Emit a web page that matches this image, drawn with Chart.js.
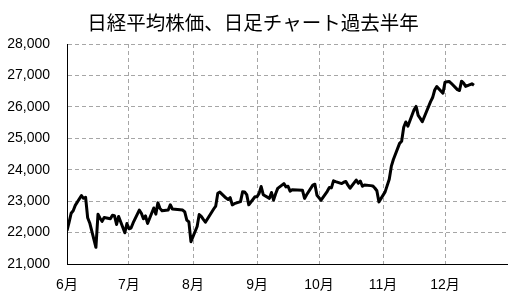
<!DOCTYPE html>
<html>
<head>
<meta charset="utf-8">
<script src="https://cdn.jsdelivr.net/npm/chart.js@4.4.1/dist/chart.umd.min.js"></script>
<style>
  body { margin: 0; background: #fff; }
  #wrap { position: relative; width: 531px; height: 303px; }
  #title {
    position: absolute; left: 0; top: 12px; width: 506px;
    text-align: center; font: 19.5px "Noto Sans CJK JP", sans-serif;
    line-height: 20px; color: #000;
  }
  canvas { display: block; }
</style>
</head>
<body>
<div id="wrap">
  <div id="title">日経平均株価、日足チャート過去半年</div>
  <canvas id="chart" width="531" height="303"></canvas>
</div>
<script>
// 取引日 (2020年) と終値
const tradeDates = [
  '6/1','6/2','6/3','6/4','6/5','6/8','6/9','6/10','6/11','6/12','6/15','6/16','6/17','6/18','6/19','6/22','6/23','6/24','6/25','6/26','6/29','6/30',
  '7/1','7/2','7/3','7/6','7/7','7/8','7/9','7/10','7/13','7/14','7/15','7/16','7/17','7/20','7/21','7/22','7/27','7/28','7/29','7/30','7/31',
  '8/3','8/4','8/5','8/6','8/7','8/11','8/12','8/13','8/14','8/17','8/18','8/19','8/20','8/21','8/24','8/25','8/26','8/27','8/28','8/31',
  '9/1','9/2','9/3','9/4','9/7','9/8','9/9','9/10','9/11','9/14','9/15','9/16','9/17','9/18','9/23','9/24','9/25','9/28','9/29','9/30',
  '10/2','10/5','10/6','10/7','10/8','10/9','10/12','10/13','10/14','10/15','10/16','10/19','10/20','10/21','10/22','10/23','10/26','10/27','10/28','10/29','10/30',
  '11/2','11/4','11/5','11/6','11/9','11/10','11/11','11/12','11/13','11/16','11/17','11/18','11/19','11/20','11/24','11/25','11/26','11/27','11/30',
  '12/1','12/2','12/3','12/4','12/7','12/8','12/9','12/10','12/11','12/14','12/15'
];
const closes = [
  22062, 22325, 22613, 22695, 22864, 23178, 23091, 23124, 22472, 22305, 21530, 22582, 22455, 22355, 22479, 22437, 22549, 22534, 22259, 22512, 21995, 22288,
  22121, 22145, 22306, 22714, 22614, 22438, 22529, 22290, 22784, 22587, 22945, 22770, 22696, 22717, 22884, 22751, 22715, 22657, 22397, 22339, 21710,
  22195, 22573, 22514, 22418, 22329, 22750, 22843, 23249, 23289, 23097, 23051, 23110, 22880, 22920, 22985, 23296, 23290, 23208, 22882, 23140,
  23138, 23247, 23465, 23205, 23089, 23274, 23032, 23235, 23406, 23559, 23454, 23475, 23319, 23360, 23346, 23087, 23204, 23511, 23539, 23185,
  23029, 23312, 23433, 23422, 23647, 23619, 23558, 23601, 23626, 23507, 23410, 23671, 23567, 23639, 23474, 23516, 23494, 23485, 23418, 23331, 22977,
  23295, 23695, 24105, 24325, 24839, 24905, 25349, 25520, 25385, 25906, 26014, 25728, 25634, 25527, 26165, 26297, 26537, 26644, 26434,
  26787, 26800, 26809, 26751, 26547, 26520, 26817, 26756, 26652, 26732, 26687
];
const monthLabels = ['6月', '7月', '8月', '9月', '10月', '11月', '12月'];
const monthStarts = ['6/1', '7/1', '8/1', '9/1', '10/1', '11/1', '12/1'];
const yTicks = [21000, 22000, 23000, 24000, 25000, 26000, 27000, 28000];

// 6月1日からの日数に変換
const base = new Date(2020, 5, 1);
function dayOffset(md) {
  const [m, d] = md.split('/').map(Number);
  return Math.round((new Date(2020, m - 1, d) - base) / 86400000);
}
const monthTicks = monthStarts.map(dayOffset);
const points = tradeDates.map((d, i) => ({ x: dayOffset(d), y: closes[i] }));

const tickFont = { family: '"Liberation Sans", "Noto Sans CJK JP", sans-serif', size: 14 };

new Chart(document.getElementById('chart').getContext('2d'), {
  type: 'line',
  data: {
    datasets: [{
      data: points,
      borderColor: '#000',
      borderWidth: 3,
      pointRadius: 0,
      tension: 0,
      fill: false,
      borderJoinStyle: 'round'
    }]
  },
  options: {
    responsive: false,
    animation: false,
    layout: { padding: { left: 7, right: 24, top: 44, bottom: 0 } },
    plugins: {
      legend: { display: false },
      tooltip: { enabled: false }
    },
    scales: {
      x: {
        type: 'linear',
        min: 0,
        max: dayOffset('12/31'),
        afterBuildTicks: axis => { axis.ticks = monthTicks.map(v => ({ value: v })); },
        afterFit: axis => { axis.height = 39; },
        ticks: {
          autoSkip: false,
          maxRotation: 0,
          padding: 13,
          color: '#000',
          font: tickFont,
          callback: v => monthLabels[monthTicks.indexOf(v)]
        },
        grid: { color: '#a6a6a6', drawTicks: false },
        border: { color: '#000', width: 1, dash: [4, 3] }
      },
      y: {
        min: yTicks[0],
        max: yTicks[yTicks.length - 1],
        afterBuildTicks: axis => { axis.ticks = yTicks.map(v => ({ value: v })); },
        afterFit: axis => { axis.width = 60; },
        ticks: {
          padding: 17,
          color: '#000',
          font: tickFont,
          callback: v => v.toLocaleString('en-US')
        },
        grid: { color: '#a6a6a6', drawTicks: false },
        border: { color: '#000', width: 1, dash: [4, 3] }
      }
    }
  }
});
</script>
</body>
</html>
